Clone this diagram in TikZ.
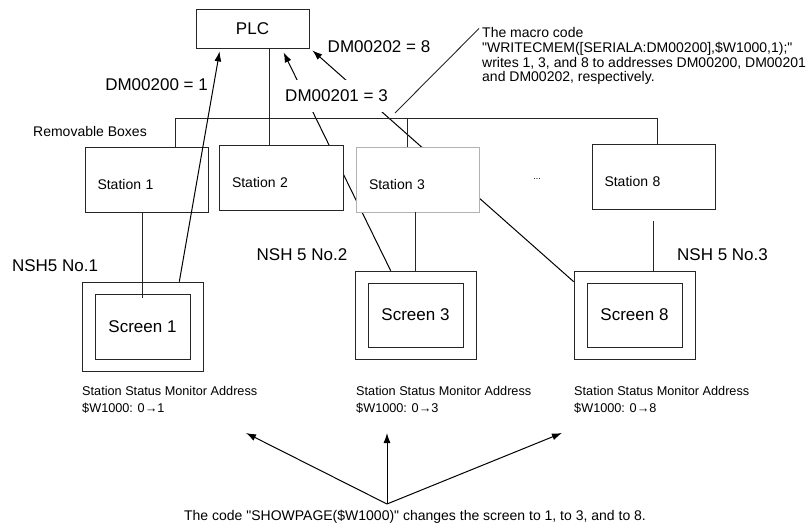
\documentclass[tikz,border=0pt]{standalone}
\usepackage{fontspec}
\setmainfont{Liberation Sans}[Ligatures=TeXOff]
\usetikzlibrary{arrows.meta, positioning, fit, backgrounds}
\tikzset{
    box/.style={
        rectangle, draw=black!85, line width=0.8pt, fill=white,
        font=\fontsize{17}{20}\selectfont
    },
    station/.style={
        box, minimum width=123pt, minimum height=65pt,
        text width=98pt, align=left, inner xsep=12.5pt,
        text height=19pt, text depth=0pt,
        font=\fontsize{14}{16}\selectfont
    },
    screen/.style={box, minimum width=95pt, minimum height=64pt},
    frame/.style={draw=black!85, line width=0.8pt, inner xsep=12.5pt, inner ysep=11.5pt},
    wire/.style={draw=black!85, line width=0.9pt},
    arrow/.style={-{Latex[length=10pt,width=7pt]}, line width=1pt},
    biglabel/.style={font=\fontsize{17}{20}\selectfont, inner sep=1pt},
    note/.style={font=\fontsize{14}{14.7}\selectfont, align=left, inner sep=0pt},
    status/.style={font=\fontsize{12.7}{16.6}\selectfont, align=left, inner sep=0pt, anchor=north west}
}

\begin{document}
\begin{tikzpicture}[x=1pt, y=-1pt]
\useasboundingbox (0,0) rectangle (812,527);

% PLC and the removable boxes
\node[box, minimum width=113pt, minimum height=39pt] (plc) at (252.5,28.5) {PLC};
\node[station] (st1) at (146.5,179.5) {Station 1};
\node[station, minimum width=124pt] (st2) at (281,178) {Station 2};
\node[station, draw=black!30] (st3) at (418,179.5) {Station 3};
\node[station] (st8) at (653.5,177) {Station 8};
\node[font=\fontsize{9}{10}\selectfont, anchor=base, inner sep=0pt] (dots) at (537,179) {...};
\node[note] (rembox) at (90,131) {Removable Boxes};

% NSH5 units
\node[screen, minimum height=65pt] (scr1) at (142.5,326.5) {Screen 1};
\node[screen] (scr3) at (415.5,315) {Screen 3};
\node[screen] (scr8) at (634.5,315) {Screen 8};
\node[frame, fit=(scr1)] (scr1o) {};
\node[frame, fit=(scr3)] (scr3o) {};
\node[frame, fit=(scr8)] (scr8o) {};

\node[biglabel] (nsh1) at (55,266) {NSH5 No.1};
\node[biglabel] (nsh2) at (302,255) {NSH 5 No.2};
\node[biglabel] (nsh3) at (722.5,255) {NSH 5 No.3};

\node[status] (stat1) at (82,386) {Station Status Monitor Address\\\$W1000: 0→1};
\node[status] (stat3) at (356,386) {Station Status Monitor Address\\\$W1000: 0→3};
\node[status] (stat8) at (574,386) {Station Status Monitor Address\\\$W1000: 0→8};

% written values
\node[biglabel, anchor=east] (dm200) at (209,85) {DM00200 = 1};
\node[biglabel, fill=white, inner ysep=10pt, inner xsep=2pt] (dm201) at (336.5,96) {DM00201 = 3};
\node[biglabel] (dm202) at (379,47) {DM00202 = 8};

\node[note, anchor=north west] (macro) at (482,27.5)
    {The macro code\\"WRITECMEM([SERIALA:DM00200],\$W1000,1);"\\writes 1, 3, and 8 to addresses DM00200, DM00201\\and DM00202, respectively.};
\node[note] (code) at (415,517)
    {The code "SHOWPAGE(\$W1000)" changes the screen to 1, to 3, and to 8.};

% bus and drops
\coordinate (busL) at (175,118);
\coordinate (busR) at (657,118);
\coordinate (bus3) at (407,118);
\coordinate (plcdrop) at ([xshift=16.5pt]plc.south);
\draw[wire] (busL |- st1.north) -- (busL) -- (busR) -- (busR |- st8.north);
\draw[wire] (bus3) -- (bus3 |- st3.north);
\draw[wire] (plcdrop) -- (plcdrop |- st2.north);

% station to screen
\draw[wire] (scr1.north |- st1.south) -- ([yshift=-4pt]scr1.north);
\draw[wire] (scr3o.north |- st3.south) -- (scr3o.north);
\draw[wire] ([yshift=-11pt]st8.south) -- (st8.south |- scr8o.north);

% writes to the PLC
\draw[arrow] ([xshift=-24pt]scr1o.north east) -- ([shift={(24pt,-3pt)}]plc.south west);
\begin{scope}[on background layer]
\draw[arrow] ([xshift=36pt]scr3o.north west) -- ([shift={(88pt,-4pt)}]plc.south west);
\draw[arrow] ([yshift=-11pt]scr8o.north west) -- ([shift={(3pt,-2pt)}]plc.south east);
\end{scope}

% leader to the macro note
\coordinate (lead) at (395,113);
\draw[wire] (lead) -- ([shift={(-3pt,-1pt)}]macro.north west);

% SHOWPAGE arrows
\coordinate (fan) at (387,504);
\coordinate (tgt1) at (246,433);
\coordinate (tgt3) at (387,433);
\coordinate (tgt8) at (562,433);
\draw[arrow] (fan) -- (tgt1);
\draw[arrow] (fan) -- (tgt3);
\draw[arrow] (fan) -- (tgt8);

\end{tikzpicture}
\end{document}
